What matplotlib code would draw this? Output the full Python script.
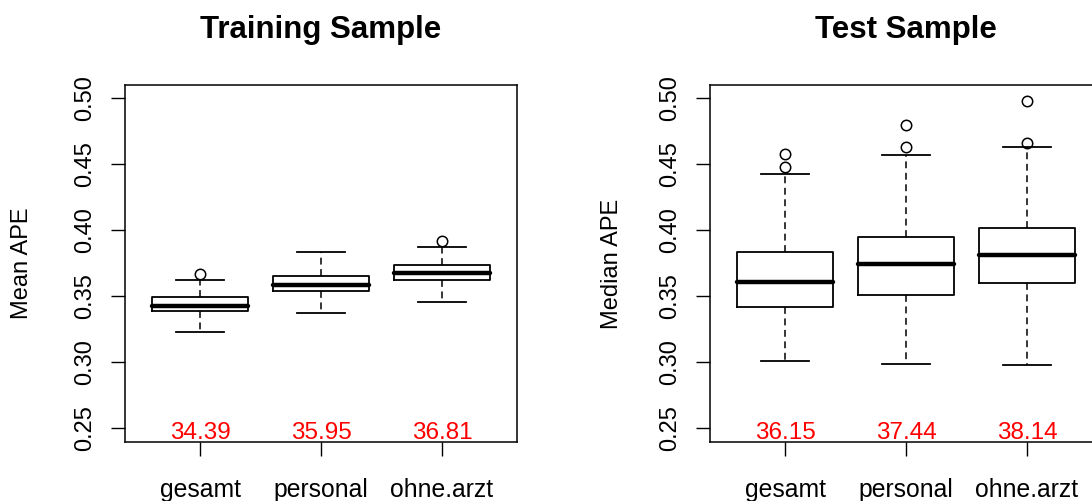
import matplotlib
matplotlib.use("Agg")
import matplotlib.pyplot as plt

plt.rcParams['font.family'] = ['Liberation Sans', 'DejaVu Sans']

groups = ["gesamt", "personal", "ohne.arzt"]

# training sample (mean APE)
train_med = [0.3428, 0.3587, 0.3678]
train_q1 = [0.3386, 0.3542, 0.3623]
train_q3 = [0.3497, 0.3655, 0.3736]
train_lo = [0.3227, 0.3373, 0.3454]
train_hi = [0.3623, 0.3837, 0.3870]
train_out = [[0.3669], [], [0.3918]]
train_pct = ["34.39", "35.95", "36.81"]

# test sample (median APE)
test_med = [0.3610, 0.3746, 0.3815]
test_q1 = [0.3416, 0.3509, 0.3602]
test_q3 = [0.3837, 0.3951, 0.4019]
test_lo = [0.3011, 0.2989, 0.2978]
test_hi = [0.4426, 0.4573, 0.4629]
test_out = [[0.4482, 0.4576], [0.4629, 0.4800], [0.4664, 0.4980]]
test_pct = ["36.15", "37.44", "38.14"]

yticks = [0.25, 0.30, 0.35, 0.40, 0.45, 0.50]


def make_stats(med, q1, q3, lo, hi, out):
    stats = []
    for i in range(len(med)):
        stats.append(dict(med=med[i], q1=q1[i], q3=q3[i],
                          whislo=lo[i], whishi=hi[i], fliers=out[i]))
    return stats


def draw_panel(ax, stats, pct, title, ylabel, label_x):
    pos = [1, 2, 3]
    ax.bxp(stats, positions=pos, widths=0.8, capwidths=0.4,
           boxprops=dict(color='black', linewidth=1.3),
           medianprops=dict(color='black', linewidth=3.2, solid_capstyle='round'),
           whiskerprops=dict(color='black', linewidth=1.1, linestyle=(0, (4.5, 3))),
           capprops=dict(color='black', linewidth=1.3),
           flierprops=dict(marker='o', markerfacecolor='none',
                           markeredgecolor='black', markersize=7.5,
                           markeredgewidth=1.1))
    for x, t in zip(pos, pct):
        ax.text(x, 0.2419, t, color='red', fontsize=17.5,
                ha='center', va='baseline')
    ax.set_xlim(0.38, 3.62)
    ax.set_ylim(0.2396, 0.5101)
    ax.set_xticks(pos)
    ax.set_xticklabels(groups, fontsize=17.8)
    ax.set_yticks(yticks)
    ax.set_yticklabels(["%.2f" % v for v in yticks], rotation=90,
                       va='center', fontsize=17)
    ax.tick_params(axis='both', length=10, width=1.0)
    ax.tick_params(axis='x', pad=16)
    ax.tick_params(axis='y', pad=11)
    for s in ax.spines.values():
        s.set_linewidth(1.1)
    ax.set_title(title, fontsize=22.5, fontweight='bold', pad=33.5)
    ax.set_ylabel(ylabel, fontsize=17, va='center')
    ax.yaxis.set_label_coords(label_x, 0.5)


fig = plt.figure(figsize=(10.92, 5.01), dpi=100)
ax1 = fig.add_axes([125 / 1092, 59 / 501, 392 / 1092, 357 / 501])
ax2 = fig.add_axes([710 / 1092, 59 / 501, 392 / 1092, 357 / 501])

draw_panel(ax1, make_stats(train_med, train_q1, train_q3, train_lo, train_hi, train_out),
           train_pct, "Training Sample", "Mean APE", (22 - 125) / 392)
draw_panel(ax2, make_stats(test_med, test_q1, test_q3, test_lo, test_hi, test_out),
           test_pct, "Test Sample", "Median APE", (612 - 710) / 392)

fig.savefig("out.png", dpi=100)
